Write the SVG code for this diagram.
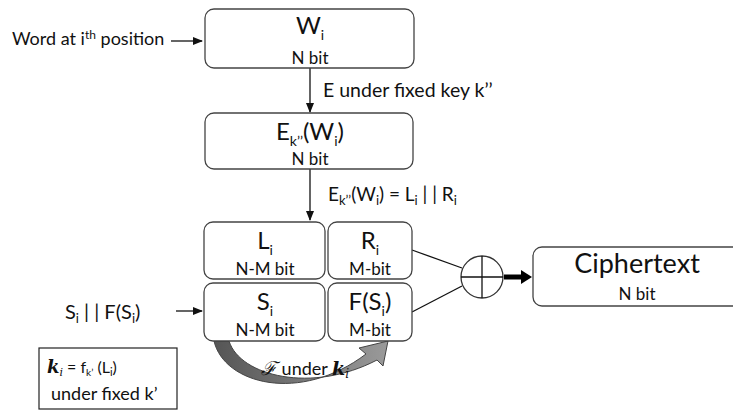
<svg xmlns="http://www.w3.org/2000/svg" width="733" height="410" viewBox="0 0 733 410">
<style>
text{font-family:Lato,"Open Sans","Liberation Sans",sans-serif;fill:#111}
.box{fill:#fff;stroke:#444;stroke-width:1.3}
.big{font-size:24px;text-anchor:middle}
.sm{font-size:17px;text-anchor:middle}
.ln{stroke:#111;stroke-width:1.3;fill:none}
.sub{font-size:14px}
.m{font-family:"DejaVu Serif",serif;font-style:italic}
</style>
<defs>
<marker id="ah" markerWidth="10" markerHeight="10" refX="9" refY="5" orient="auto" markerUnits="userSpaceOnUse">
<path d="M0,1 L10,5 L0,9 Z" fill="#111"/>
</marker>
<linearGradient id="gr" x1="0" y1="0" x2="1" y2="0">
<stop offset="0" stop-color="#555"/>
<stop offset="1" stop-color="#9a9a9a"/>
</linearGradient>
</defs>
<g id="connectors">
<line class="ln" x1="171" y1="41" x2="202" y2="41" marker-end="url(#ah)"/>
<line class="ln" x1="310" y1="68" x2="310" y2="112" marker-end="url(#ah)"/>
<line class="ln" x1="310" y1="169" x2="310" y2="220" marker-end="url(#ah)"/>
<line class="ln" x1="176" y1="311" x2="202" y2="311" marker-end="url(#ah)"/>
<line class="ln" x1="412" y1="250" x2="462" y2="268"/>
<line class="ln" x1="412" y1="312" x2="462" y2="286"/>
<line x1="504" y1="277" x2="522" y2="277" stroke="#000" stroke-width="5"/>
<path d="M521,270 L532,277 L521,284 Z" fill="#000"/>
<path d="M214,341 C224,384 300,404 366,354 L359,348 L388,341 L383,366 L377,360 C312,394 240,376 229,341 Z" fill="url(#gr)" stroke="#444" stroke-width="1"/>
</g>
<g id="label-word"><text x="12" y="45" font-size="18">Word at i<tspan font-size="12" dy="-6">th</tspan><tspan dy="6"> position</tspan></text></g>
<g id="node-w">
<rect class="box" x="205" y="9" width="209" height="59" rx="9"/>
<text class="big" x="310" y="34">W<tspan class="sub" dy="6">i</tspan></text>
<text class="sm" x="310" y="64">N bit</text>
</g>
<g id="label-e"><text x="323" y="97" font-size="19.5">E under fixed key k’’</text></g>
<g id="node-e">
<rect class="box" x="205" y="113" width="208" height="56" rx="9"/>
<text class="big" x="310" y="140">E<tspan class="sub" dy="6">k’’</tspan><tspan dy="-6">(W</tspan><tspan class="sub" dy="6">i</tspan><tspan dy="-6">)</tspan></text>
<text class="sm" x="310" y="165">N bit</text>
</g>
<g id="label-eq"><text x="328" y="201" font-size="19">E<tspan font-size="13" dy="4">k’’</tspan><tspan dy="-4">(W</tspan><tspan font-size="13" dy="4">i</tspan><tspan dy="-4">) = L</tspan><tspan font-size="13" dy="4">i</tspan><tspan dy="-4"> | |  R</tspan><tspan font-size="13" dy="4">i</tspan></text></g>
<g id="node-l">
<rect class="box" x="204" y="222" width="121" height="57" rx="9"/>
<text class="big" x="265" y="249">L<tspan class="sub" dy="6">i</tspan></text>
<text class="sm" x="265" y="275">N-M bit</text>
</g>
<g id="node-r">
<rect class="box" x="328" y="222" width="84" height="57" rx="9"/>
<text class="big" x="370" y="249">R<tspan class="sub" dy="6">i</tspan></text>
<text class="sm" x="370" y="275">M-bit</text>
</g>
<g id="node-s">
<rect class="box" x="204" y="283" width="121" height="58" rx="9"/>
<text class="big" x="265" y="310">S<tspan class="sub" dy="6">i</tspan></text>
<text class="sm" x="265" y="336">N-M bit</text>
</g>
<g id="node-f">
<rect class="box" x="328" y="283" width="84" height="58" rx="9"/>
<text class="big" x="370" y="310">F(S<tspan class="sub" dy="6">i</tspan><tspan dy="-6">)</tspan></text>
<text class="sm" x="370" y="336">M-bit</text>
</g>
<g id="label-sf"><text x="65" y="319" font-size="20">S<tspan font-size="13" dy="4">i</tspan><tspan dy="-4"> | |  F(S</tspan><tspan font-size="13" dy="4">i</tspan><tspan dy="-4">)</tspan></text></g>
<g id="node-k">
<rect x="39" y="348" width="138" height="61" fill="#fff" stroke="#222" stroke-width="1.2"/>
<text x="47" y="373" font-size="16"><tspan class="m" font-weight="bold" font-size="18">k</tspan><tspan class="m" font-size="11" dy="3">i</tspan><tspan dy="-3"> = f</tspan><tspan font-size="10" dy="3">k’</tspan><tspan dy="-3"> (L</tspan><tspan font-size="11" dy="3">i</tspan><tspan dy="-3">)</tspan></text>
<text x="51" y="400" font-size="18">under fixed k’</text>
</g>
<g id="label-func"><text x="261" y="375" font-size="18"><tspan class="m" font-size="19">ℱ</tspan> under <tspan class="m" font-weight="bold" font-size="19">k</tspan><tspan class="m" font-size="12" dy="3">i</tspan></text></g>
<g id="node-xor">
<circle cx="482" cy="277" r="21" fill="#fff" stroke="#333" stroke-width="1.3"/>
<line class="ln" x1="461" y1="277" x2="503" y2="277"/>
<line class="ln" x1="482" y1="256" x2="482" y2="298"/>
</g>
<g id="node-cipher">
<rect class="box" x="533" y="247" width="210" height="59" rx="9"/>
<text x="637" y="273" font-size="27" text-anchor="middle">Ciphertext</text>
<text class="sm" x="637" y="300">N bit</text>
</g>
</svg>
